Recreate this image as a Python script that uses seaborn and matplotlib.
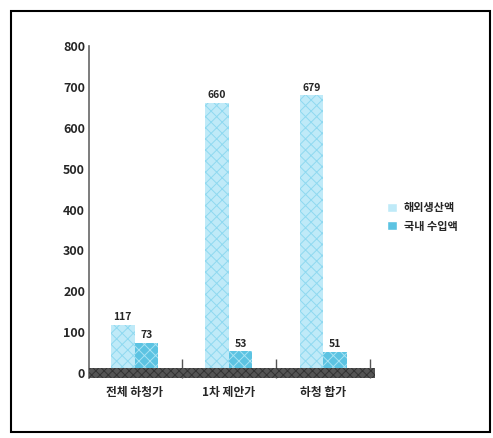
import numpy as np
import pandas as pd
import matplotlib.pyplot as plt
import seaborn as sns
from matplotlib.patches import Rectangle

categories = ['전체 하청가', '1차 제안가', '하청 합가']
series = ['해외생산액', '국내 수입액']
vals_a = [117, 660, 679]
vals_b = [73, 53, 51]

df = pd.DataFrame({
    'cat': categories * 2,
    'series': [series[0]] * 3 + [series[1]] * 3,
    'val': vals_a + vals_b,
})

sns.set_style('white')
plt.rcParams['font.family'] = ['Noto Sans CJK KR', 'DejaVu Sans']
plt.rcParams['hatch.linewidth'] = 0.7

fig = plt.figure(figsize=(4.93, 4.38), dpi=100)
ax = fig.add_axes([0.181, 0.137, 0.58, 0.758])

pal = ['#bfeaf8', '#5cc3e2']
sns.barplot(data=df, x='cat', y='val', hue='series', palette=pal,
            width=0.5, gap=0, ax=ax, legend=True, saturation=1)

hatch_cols = ['#8fd9f0', '#a6e2f3']
for cont, hc in zip(ax.containers, hatch_cols):
    for b in cont:
        b.set_hatch('xxx')
        b.set_edgecolor(hc)
        b.set_linewidth(0)
    ax.bar_label(cont, fmt='%d', fontsize=7.5, fontweight='heavy', padding=2)

ax.set_ylim(-12, 800)
ax.set_xlim(-0.48, 2.55)
ax.axhspan(-12, 12, xmin=0, xmax=1, facecolor='#555555', edgecolor='#333333',
           hatch='xxxx', linewidth=0, zorder=5)

ax.set_yticks(np.arange(0, 801, 100))
ax.set_yticklabels([str(v) for v in range(0, 801, 100)], fontsize=9, fontweight='heavy')
ax.set_xticks([0, 1, 2])
ax.set_xticklabels(categories, fontsize=8.5, fontweight='heavy')
ax.set_xticks([0.5, 1.5, 2.5], minor=True)
ax.tick_params(axis='y', which='major', direction='in', length=5, color='#555555', width=0.8, pad=3)
ax.tick_params(axis='x', which='major', length=0, pad=6)
ax.tick_params(axis='x', which='minor', direction='in', length=14, color='#555555', width=1.0, bottom=True)
for t in ax.xaxis.get_minor_ticks():
    t.tick1line.set_zorder(6)
ax.set_xlabel('')
ax.set_ylabel('')
for s in ['top', 'right', 'bottom']:
    ax.spines[s].set_visible(False)
ax.spines['left'].set_color('#666666')
ax.spines['left'].set_linewidth(1.2)

h, l = ax.get_legend_handles_labels()
ax.get_legend().remove()
fig.legend(h, l, loc='center left', bbox_to_anchor=(0.765, 0.505), frameon=False,
           prop={'size': 8, 'weight': 'heavy'}, handlelength=0.9, handleheight=0.9,
           handletextpad=0.6, labelspacing=0.5)

fig.patches.append(Rectangle((0.022, 0.014), 0.972, 0.961, transform=fig.transFigure,
                             fill=False, edgecolor='black', linewidth=1.5))

fig.savefig('out.png', dpi=100)
